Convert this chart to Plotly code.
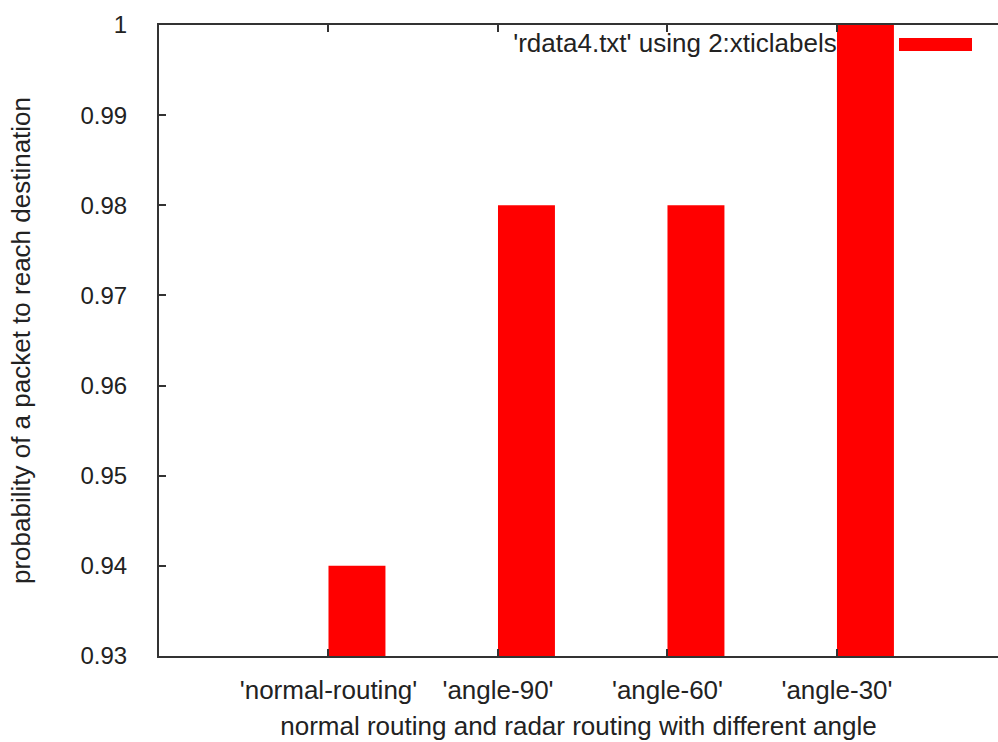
import plotly.graph_objects as go

# ---- data ----
categories = ["'normal-routing'", "'angle-90'", "'angle-60'", "'angle-30'"]
values = [0.94, 0.98, 0.98, 1.0]
y_ticks = [0.93, 0.94, 0.95, 0.96, 0.97, 0.98, 0.99, 1.0]
y_tick_labels = ["0.93", "0.94", "0.95", "0.96", "0.97", "0.98", "0.99", "1"]
legend_label = "'rdata4.txt' using 2:xticlabels(1)"
x_title = "normal routing and radar routing with different angle"
y_title = "probability of a packet to reach destination"

positions = list(range(len(categories)))

FONT = "Liberation Sans, Arial, sans-serif"
TXT = "#222222"
AX = "#333333"
X_RANGE = [-1, 3.95]
Y_RANGE = [0.93, 1.0]

fig = go.Figure()

# legend text drawn on the base subplot so the bars (overlay subplot) cover it
fig.add_trace(go.Scatter(
    x=[1.09], y=[0.99775], mode="text", text=[legend_label],
    textposition="middle right", textfont=dict(family=FONT, size=26, color=TXT),
    showlegend=False, hoverinfo="skip", xaxis="x", yaxis="y",
))

fig.add_trace(go.Bar(
    x=positions, y=values, offset=0, width=0.336,
    marker=dict(color="#ff0000", line=dict(width=0)),
    showlegend=False, xaxis="x2", yaxis="y2",
))

fig.update_layout(
    width=998, height=742,
    margin=dict(l=159, r=0, t=25, b=86),
    paper_bgcolor="white", plot_bgcolor="white",
    font=dict(family=FONT, size=25, color=TXT),
    showlegend=False,
    xaxis=dict(
        range=X_RANGE, tickmode="array", tickvals=positions, ticktext=categories,
        ticks="inside", ticklen=7, tickwidth=1.5, tickcolor=AX,
        showline=True, linecolor=AX, linewidth=2, mirror="ticks",
        showgrid=False, zeroline=False,
        tickfont=dict(family=FONT, size=26, color=TXT),
        ticklabelstandoff=10,
        title=dict(text=x_title, font=dict(family=FONT, size=26, color=TXT), standoff=13),
        automargin=False,
    ),
    yaxis=dict(
        range=Y_RANGE, tickmode="array", tickvals=y_ticks, ticktext=y_tick_labels,
        ticks="inside", ticklen=7, tickwidth=1.5, tickcolor=AX,
        showline=True, linecolor=AX, linewidth=2,
        showgrid=False, zeroline=False,
        tickfont=dict(family=FONT, size=24, color=TXT),
        ticklabelstandoff=25,
        title=dict(text=y_title, font=dict(family=FONT, size=26, color=TXT), standoff=42),
        automargin=False,
    ),
    xaxis2=dict(range=X_RANGE, overlaying="x", visible=False, fixedrange=True),
    yaxis2=dict(range=Y_RANGE, overlaying="y", visible=False, fixedrange=True),
    shapes=[dict(type="rect", xref="paper", yref="paper",
                 x0=(899 - 159) / (998 - 159), x1=(972 - 159) / (998 - 159),
                 y0=1 - (51 - 25) / (656 - 25), y1=1 - (38 - 25) / (656 - 25),
                 fillcolor="#ff0000", line=dict(width=0), layer="above")],
)

fig.write_html("out.html")
